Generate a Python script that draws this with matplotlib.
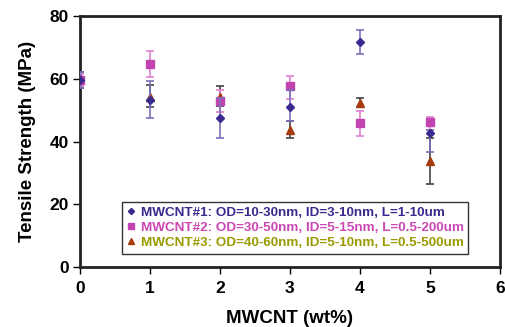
import matplotlib
matplotlib.use("Agg")
import matplotlib.pyplot as plt

plt.rcParams['font.family'] = ['Liberation Sans', 'DejaVu Sans']

# datos
wt = [0, 1, 2, 3, 4, 5]
ts1 = [59.6, 53.2, 47.4, 51.1, 71.7, 42.6]
err1_lo = [2.5, 5.8, 6.4, 4.6, 3.9, 5.9]
err1_hi = [2.5, 6.0, 6.4, 5.3, 4.0, 1.0]
ts2 = [59.6, 64.6, 52.9, 57.7, 46.0, 46.2]
err2_lo = [2.0, 4.1, 3.5, 4.1, 4.2, 2.5]
err2_hi = [2.0, 4.2, 3.5, 3.2, 3.8, 1.7]
ts3 = [59.6, 54.1, 54.1, 43.6, 52.3, 33.8]
err3_lo = [2.5, 3.1, 2.8, 2.3, 1.2, 7.2]
err3_hi = [2.5, 3.9, 3.5, 2.9, 1.6, 7.4]
labels = ["MWCNT#1: OD=10-30nm, ID=3-10nm, L=1-10um",
          "MWCNT#2: OD=30-50nm, ID=5-15nm, L=0.5-200um",
          "MWCNT#3: OD=40-60nm, ID=5-10nm, L=0.5-500um"]

c1 = "#3a2a8e"
c2 = "#c244b0"
c3 = "#a63a0c"
txt_colors = [c1, "#cc47b2", "#9a9a00"]

fig = plt.figure(figsize=(5.06, 3.27), dpi=100)
ax = fig.add_axes([0.158, 0.1835, 0.83, 0.767])

ax.errorbar(wt, ts3, yerr=[err3_lo, err3_hi], fmt="^", color=c3, ms=6,
            ecolor="#444444", elinewidth=1.2, capsize=3, capthick=1.2, zorder=3,
            label=labels[2])
ax.errorbar(wt, ts1, yerr=[err1_lo, err1_hi], fmt="D", color=c1, ms=4.5,
            ecolor="#7a70b8", elinewidth=1.2, capsize=3, capthick=1.2, zorder=4,
            label=labels[0])
ax.errorbar(wt, ts2, yerr=[err2_lo, err2_hi], fmt="s", color=c2, ms=6,
            ecolor="#e080d0", elinewidth=1.2, capsize=3, capthick=1.2, zorder=3,
            label=labels[1])

ax.set_xlim(0, 6)
ax.set_ylim(0, 80)
ax.set_xticks(range(0, 7))
ax.set_yticks(range(0, 81, 20))
ax.tick_params(direction="out", length=5, width=1, labelsize=12.5, pad=3)
ax.tick_params(axis="x", pad=5)
for t in ax.get_xticklabels() + ax.get_yticklabels():
    t.set_fontweight("bold")
for s in ax.spines.values():
    s.set_linewidth(2)
    s.set_color("#222222")

ax.set_xlabel("MWCNT (wt%)", fontsize=13.5, fontweight="bold", labelpad=10)
ax.set_ylabel("Tensile Strength (MPa)", fontsize=13.5, fontweight="bold", labelpad=10)

h, l = ax.get_legend_handles_labels()
order = [1, 2, 0]
leg = ax.legend([h[i][0] for i in order], [l[i] for i in order],
                loc="lower left", bbox_to_anchor=(0.085, 0.026),
                fontsize=9.7, frameon=True, fancybox=False,
                handlelength=0.6, handletextpad=0.4, borderpad=0.35,
                labelspacing=0.2, markerscale=0.7)
leg.get_frame().set_edgecolor("black")
leg.get_frame().set_linewidth(1)
for t, c in zip(leg.get_texts(), txt_colors):
    t.set_color(c)
    t.set_fontweight("bold")

fig.savefig("out.png", dpi=100)
